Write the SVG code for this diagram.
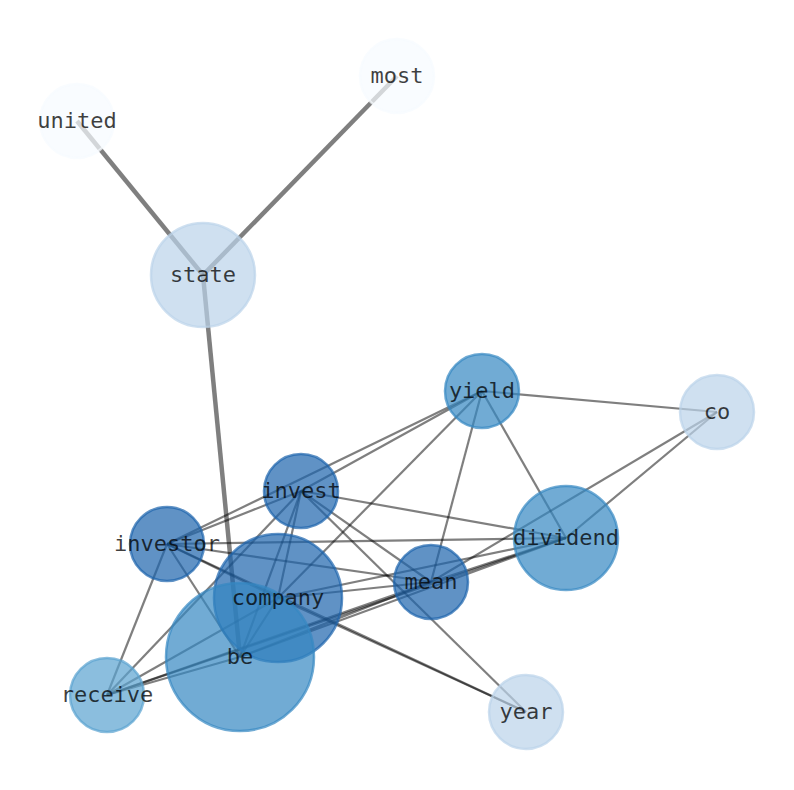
<svg xmlns="http://www.w3.org/2000/svg" width="794" height="790" viewBox="0 0 794 790">
<style>
  .e { stroke: #000; stroke-opacity: 0.5; stroke-width: 2.2; stroke-linecap: butt; }
  .t { stroke: #000; stroke-opacity: 0.5; stroke-width: 4.5; }
  circle { fill-opacity: 0.7; stroke-opacity: 0.7; stroke-width: 2.5; }
  .c0 { fill: #f7fbff; stroke: #f7fbff; }
  .c1 { fill: #bad3e9; stroke: #bad3e9; }
  .c2 { fill: #5aa2d0; stroke: #5aa2d0; }
  .c3 { fill: #3588c2; stroke: #3588c2; }
  .c4 { fill: #1c64ad; stroke: #1c64ad; }
  text { font-family: "DejaVu Sans Mono", "Liberation Mono", monospace; font-size: 22px; fill: #000; fill-opacity: 0.75; text-anchor: middle; }
</style>
<rect width="794" height="790" fill="#fff"/>
<g id="edges">
  <line class="t" x1="77" y1="121" x2="203" y2="275"/>
  <line class="t" x1="397" y1="76" x2="203" y2="275"/>
  <line class="t" x1="203" y1="275" x2="240" y2="657"/>
  <line class="e" x1="482" y1="391" x2="717" y2="412"/>
  <line class="e" x1="482" y1="391" x2="566" y2="538"/>
  <line class="e" x1="482" y1="391" x2="431" y2="582"/>
  <line class="e" x1="482" y1="391" x2="278" y2="598"/>
  <line class="e" x1="482" y1="391" x2="167" y2="544"/>
  <line class="e" x1="482" y1="391" x2="301" y2="491"/>
  <line class="e" x1="717" y1="412" x2="566" y2="538"/>
  <line class="e" x1="717" y1="412" x2="431" y2="582"/>
  <line class="e" x1="301" y1="491" x2="167" y2="544"/>
  <line class="e" x1="301" y1="491" x2="566" y2="538"/>
  <line class="e" x1="301" y1="491" x2="431" y2="582"/>
  <line class="e" x1="301" y1="491" x2="526" y2="712"/>
  <line class="e" x1="301" y1="491" x2="107" y2="695"/>
  <line class="e" x1="301" y1="491" x2="278" y2="598"/>
  <line class="e" x1="301" y1="491" x2="240" y2="657"/>
  <line class="e" x1="167" y1="544" x2="566" y2="538"/>
  <line class="e" x1="167" y1="544" x2="431" y2="582"/>
  <line class="e" x1="167" y1="544" x2="526" y2="712"/>
  <line class="e" x1="167" y1="544" x2="278" y2="598"/>
  <line class="e" x1="167" y1="544" x2="240" y2="657"/>
  <line class="e" x1="167" y1="544" x2="107" y2="695"/>
  <line class="e" x1="278" y1="598" x2="240" y2="657"/>
  <line class="e" x1="278" y1="598" x2="107" y2="695"/>
  <line class="e" x1="278" y1="598" x2="431" y2="582"/>
  <line class="e" x1="278" y1="598" x2="566" y2="538"/>
  <line class="e" x1="278" y1="598" x2="526" y2="712"/>
  <line class="e" x1="240" y1="657" x2="107" y2="695"/>
  <line class="e" x1="240" y1="657" x2="431" y2="582"/>
  <line class="e" x1="240" y1="657" x2="566" y2="538"/>
  <line class="e" x1="107" y1="695" x2="431" y2="582"/>
  <line class="e" x1="107" y1="695" x2="566" y2="538"/>
  <line class="e" x1="431" y1="582" x2="566" y2="538"/>
</g>
<g id="node-united"><circle class="c0" cx="77" cy="121" r="37"/></g>
<g id="node-most"><circle class="c0" cx="397" cy="76" r="37"/></g>
<g id="node-state"><circle class="c1" cx="203" cy="275" r="52"/></g>
<g id="node-yield"><circle class="c3" cx="482" cy="391" r="37"/></g>
<g id="node-co"><circle class="c1" cx="717" cy="412" r="37"/></g>
<g id="node-dividend"><circle class="c3" cx="566" cy="538" r="52"/></g>
<g id="node-mean"><circle class="c4" cx="431" cy="582" r="37"/></g>
<g id="node-year"><circle class="c1" cx="526" cy="712" r="37"/></g>
<g id="node-invest"><circle class="c4" cx="301" cy="491" r="37"/></g>
<g id="node-investor"><circle class="c4" cx="167" cy="544" r="37"/></g>
<g id="node-receive"><circle class="c2" cx="107" cy="695" r="37"/></g>
<g id="node-company"><circle class="c4" cx="278" cy="598" r="64"/></g>
<g id="node-be"><circle class="c3" cx="240" cy="657" r="74"/></g>
<g id="labels">
  <text id="label-united" x="77" y="128">united</text>
  <text id="label-most" x="397" y="83">most</text>
  <text id="label-state" x="203" y="282">state</text>
  <text id="label-yield" x="482" y="398">yield</text>
  <text id="label-co" x="717" y="419">co</text>
  <text id="label-dividend" x="566" y="545">dividend</text>
  <text id="label-mean" x="431" y="589">mean</text>
  <text id="label-year" x="526" y="719">year</text>
  <text id="label-invest" x="301" y="498">invest</text>
  <text id="label-investor" x="167" y="551">investor</text>
  <text id="label-receive" x="107" y="702">receive</text>
  <text id="label-be" x="240" y="664">be</text>
  <text id="label-company" x="278" y="605">company</text>
</g>
</svg>
